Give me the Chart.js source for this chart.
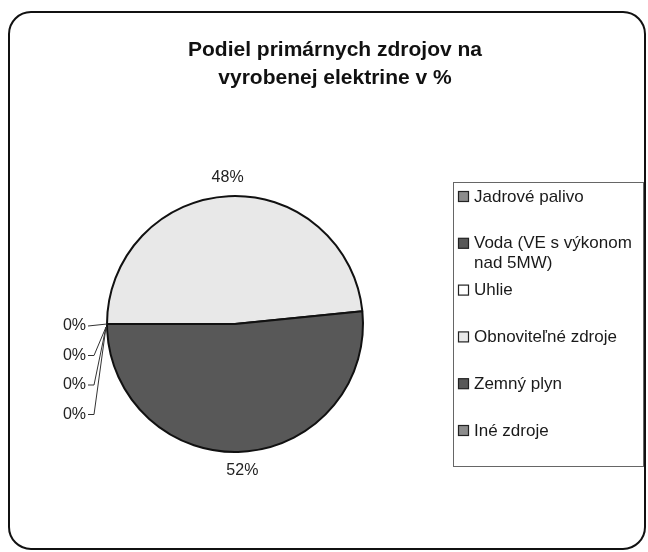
<!DOCTYPE html>
<html>
<head>
<meta charset="utf-8">
<script src="https://cdn.jsdelivr.net/npm/chart.js@4/dist/chart.umd.min.js"></script>
<style>
  html, body { margin: 0; padding: 0; background: #fff; }
  #wrap { width: 648px; height: 552px; }
</style>
</head>
<body>
<div id="wrap"><canvas id="pieChart" width="648" height="552"></canvas></div>
<script>
// dáta grafu
const titleLines = ['Podiel primárnych zdrojov na', 'vyrobenej elektrine v %'];
const categories = ['Jadrové palivo', 'Voda (VE s výkonom nad 5MW)', 'Uhlie', 'Obnoviteľné zdroje', 'Zemný plyn', 'Iné zdroje'];
const shares = [0, 0, 0, 48.4, 51.6, 0];
const sliceColors = ['#8c8c8c', '#585858', '#ffffff', '#e8e8e8', '#585858', '#8c8c8c'];

const FONT = 'Arial, "Liberation Sans", sans-serif';

// rámik a nadpis
const framePlugin = {
    id: 'frame',
    beforeDraw(chart) {
        const ctx = chart.ctx;
        ctx.save();
        ctx.fillStyle = '#fff';
        ctx.fillRect(0, 0, chart.width, chart.height);
        ctx.strokeStyle = '#111';
        ctx.lineWidth = 2;
        ctx.beginPath();
        ctx.roundRect(9, 12, 636, 537, 22);
        ctx.stroke();

        ctx.fillStyle = '#111';
        ctx.font = 'bold 21px ' + FONT;
        ctx.textAlign = 'center';
        ctx.textBaseline = 'middle';
        titleLines.forEach((line, i) => ctx.fillText(line, 335, 50 + i * 28));
        ctx.restore();
    }
};

// popisky percent
const labelPlugin = {
    id: 'pctLabels',
    afterDatasetsDraw(chart) {
        const ctx = chart.ctx;
        const meta = chart.getDatasetMeta(0);
        const values = chart.data.datasets[0].data;
        const total = values.reduce((a, b) => a + b, 0);
        ctx.save();
        ctx.font = '16px ' + FONT;
        ctx.fillStyle = '#222';
        ctx.textBaseline = 'middle';
        let zeroIdx = 0;
        meta.data.forEach((arc, i) => {
            const p = arc.getProps(['x', 'y', 'startAngle', 'endAngle', 'outerRadius'], true);
            const pct = Math.round(values[i] / total * 100);
            if (values[i] > 0) {
                const mid = (p.startAngle + p.endAngle) / 2;
                const r = p.outerRadius + 19;
                ctx.textAlign = 'center';
                ctx.fillText(pct + '%', p.x + Math.cos(mid) * r, p.y + Math.sin(mid) * r);
            } else {
                const ex = p.x + Math.cos(p.startAngle) * p.outerRadius;
                const ey = p.y + Math.sin(p.startAngle) * p.outerRadius;
                const ly = ey + 2 + zeroIdx * 29.5;
                ctx.textAlign = 'right';
                ctx.fillText(pct + '%', 86, ly);
                ctx.strokeStyle = '#333';
                ctx.lineWidth = 1;
                ctx.beginPath();
                ctx.moveTo(88, ly);
                if (zeroIdx === 0) {
                    ctx.lineTo(ex, ey);
                } else {
                    ctx.lineTo(94, ly);
                    ctx.lineTo(ex - 1, ey + 3);
                }
                ctx.stroke();
                zeroIdx++;
            }
        });
        ctx.restore();
    }
};

// legenda vpravo
const legendPlugin = {
    id: 'boxLegend',
    afterDraw(chart) {
        const ctx = chart.ctx;
        const ds = chart.data.datasets[0];
        ctx.save();
        ctx.strokeStyle = '#666';
        ctx.lineWidth = 1;
        ctx.strokeRect(453.5, 182.5, 190, 284);
        ctx.font = '17px ' + FONT;
        ctx.textBaseline = 'middle';
        ctx.textAlign = 'left';
        chart.data.labels.forEach((label, i) => {
            const y = 197 + i * 46.8;
            ctx.fillStyle = ds.backgroundColor[i];
            ctx.fillRect(458.5, y - 5.5, 10, 10);
            ctx.strokeStyle = '#222';
            ctx.lineWidth = 1.2;
            ctx.strokeRect(458.5, y - 5.5, 10, 10);
            ctx.fillStyle = '#1a1a1a';
            // zalomenie dlhého textu
            const words = label.split(' ');
            const lines = [];
            let cur = '';
            words.forEach(w => {
                const test = cur ? cur + ' ' + w : w;
                if (ctx.measureText(test).width > 165 && cur) {
                    lines.push(cur);
                    cur = w;
                } else {
                    cur = test;
                }
            });
            lines.push(cur);
            lines.forEach((ln, j) => ctx.fillText(ln, 474, y + j * 20));
        });
        ctx.restore();
    }
};

const ctx = document.getElementById('pieChart').getContext('2d');
const pieChart = new Chart(ctx, {
    type: 'pie',
    data: {
        labels: categories,
        datasets: [{
            data: shares,
            backgroundColor: sliceColors,
            borderColor: '#111',
            borderWidth: 2
        }]
    },
    options: {
        responsive: false,
        animation: false,
        rotation: 270,
        layout: {
            padding: { left: 106, right: 284, top: 195, bottom: 99 }
        },
        plugins: {
            legend: { display: false },
            title: { display: false },
            tooltip: { enabled: false }
        }
    },
    plugins: [framePlugin, labelPlugin, legendPlugin]
});
</script>
</body>
</html>
